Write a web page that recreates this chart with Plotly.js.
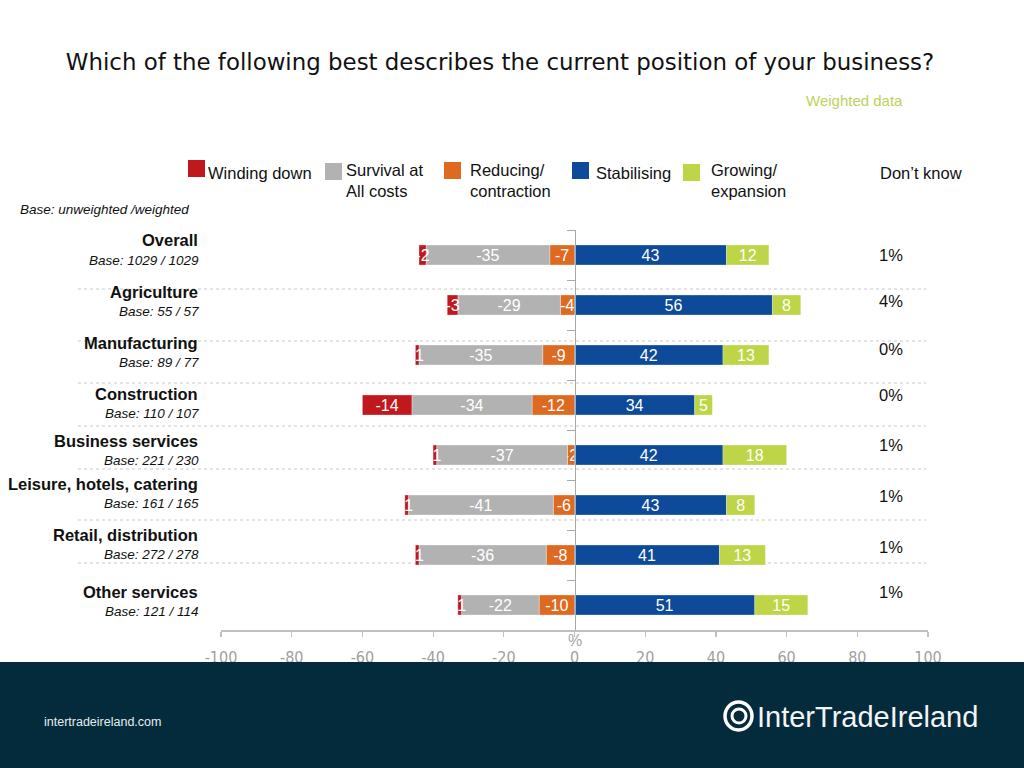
<!DOCTYPE html>
<html>
<head>
<meta charset="utf-8">
<script src="https://cdn.plot.ly/plotly-3.0.1.min.js"></script>
<style>
  html, body { margin: 0; padding: 0; background: #ffffff; }
  #chart { width: 1024px; height: 768px; }
</style>
</head>
<body>
<div id="chart"></div>
<script>
// ---------------- DATA ----------------
const categories = ["Overall", "Agriculture", "Manufacturing", "Construction",
  "Business services", "Leisure, hotels, catering", "Retail, distribution", "Other services"];
const bases = ["Base: 1029 / 1029", "Base: 55 / 57", "Base: 89 / 77", "Base: 110 / 107",
  "Base: 221 / 230", "Base: 161 / 165", "Base: 272 / 278", "Base: 121 / 114"];
const windingDown = [2, 3, 1, 14, 1, 1, 1, 1];
const survival    = [35, 29, 35, 34, 37, 41, 36, 22];
const reducing    = [7, 4, 9, 12, 2, 6, 8, 10];
const stabilising = [43, 56, 42, 34, 42, 43, 41, 51];
const growing     = [12, 8, 13, 5, 18, 8, 13, 15];
const dontKnow    = ["1%", "4%", "0%", "0%", "1%", "1%", "1%", "1%"];
const seriesNames = ["Winding down", "Survival at<br>All costs", "Reducing/<br>contraction",
  "Stabilising", "Growing/<br>expansion"];
const xTicks = [-100, -80, -60, -40, -20, 0, 20, 40, 60, 80, 100];

// ---------------- STYLE ----------------
const colors = {
  winding: "#c1181d", survival: "#b2b2b2", reducing: "#de6a21",
  stabilising: "#0d4a9a", growing: "#bdd546"
};
const FONT = "Liberation Sans, Arial, Helvetica, sans-serif";
const L = 221, R = 928, T = 230, B = 630;     // plot area in pixels
const xp = px => (px - L) / (R - L);
const yp = py => (B - py) / (B - T);

const negLabel = v => (v === 1 ? "\u00a01" : "-" + v);
const posLabel = v => String(v);

function barTrace(vals, sign, color, labelFn, name) {
  return {
    type: "bar", orientation: "h", name: name,
    y: categories, x: vals.map(v => sign * v),
    text: vals.map(labelFn), textposition: "inside", insidetextanchor: "middle",
    textangle: 0, constraintext: "none", cliponaxis: false,
    textfont: { family: FONT, size: 16, color: "#ffffff" },
    marker: { color: color, line: { color: "rgba(255,255,255,0.6)", width: 0.5 } },
    hoverinfo: "x+y", showlegend: false
  };
}

const traces = [
  barTrace(reducing, -1, colors.reducing, negLabel, "Reducing/contraction"),
  barTrace(survival, -1, colors.survival, negLabel, "Survival at All costs"),
  barTrace(windingDown, -1, colors.winding, negLabel, "Winding down"),
  barTrace(stabilising, 1, colors.stabilising, posLabel, "Stabilising"),
  barTrace(growing, 1, colors.growing, posLabel, "Growing/expansion")
];

// ---------------- ANNOTATIONS / SHAPES ----------------
const annotations = [];
const shapes = [];

// category labels on left
const nameShift = [15, 13, 12, 11, 14, 21, 20, 13];
const baseShift = [-5, -6, -7, -8, -5, 2, 1, -6];
categories.forEach((c, i) => {
  annotations.push({
    xref: "paper", yref: "y", x: xp(200), y: c, xanchor: "right", yanchor: "middle",
    yshift: nameShift[i], text: "<b>" + c + "</b>", showarrow: false,
    font: { family: FONT, size: 16.5, color: "#111111" }
  });
  annotations.push({
    xref: "paper", yref: "y", x: xp(201), y: c, xanchor: "right", yanchor: "middle",
    yshift: baseShift[i], text: "<i>" + bases[i] + "</i>", showarrow: false,
    font: { family: FONT, size: 13.5, color: "#111111" }
  });
});

// don't know values
const dkShift = [0, 4, 6, 10, 10, 9, 8, 13];
categories.forEach((c, i) => {
  annotations.push({
    xref: "paper", yref: "y", x: xp(891), y: c, xanchor: "center", yanchor: "middle",
    yshift: dkShift[i], text: dontKnow[i], showarrow: false,
    font: { family: FONT, size: 16.5, color: "#111111" }
  });
});

// dotted separators
[289, 341, 383, 426, 469, 520, 563].forEach(py => {
  shapes.push({
    type: "line", xref: "paper", yref: "paper", x0: xp(78), x1: xp(926), y0: yp(py), y1: yp(py),
    line: { color: "#c8c8c8", width: 1, dash: "dot" }, layer: "below"
  });
});

// legend
const legendColors = [colors.winding, colors.survival, colors.reducing, colors.stabilising, colors.growing];
const legSquares = [[188, 160], [325, 163], [444, 162], [572, 162], [683, 164]];
const legText = [[206, 173], [344, 180], [468, 180], [594, 173], [709, 180]];
legendColors.forEach((col, i) => {
  const [sx, sy] = legSquares[i];
  shapes.push({
    type: "rect", xref: "paper", yref: "paper", x0: xp(sx), x1: xp(sx + 17), y0: yp(sy), y1: yp(sy + 17),
    fillcolor: col, line: { width: 0 }
  });
  annotations.push({
    xref: "paper", yref: "paper", x: xp(legText[i][0]), y: yp(legText[i][1]),
    xanchor: "left", yanchor: "middle", align: "left", text: seriesNames[i], showarrow: false,
    font: { family: FONT, size: 16.5, color: "#111111" }
  });
});
annotations.push({
  xref: "paper", yref: "paper", x: xp(878), y: yp(173), xanchor: "left", yanchor: "middle",
  text: "Don’t know", showarrow: false, font: { family: FONT, size: 16.5, color: "#111111" }
});

// misc texts
annotations.push({
  xref: "paper", yref: "paper", x: xp(18), y: yp(210), xanchor: "left", yanchor: "middle",
  text: "<i>Base: unweighted /weighted</i>", showarrow: false,
  font: { family: FONT, size: 13.5, color: "#111111" }
});
annotations.push({
  xref: "paper", yref: "paper", x: xp(905), y: yp(100), xanchor: "right", yanchor: "middle",
  text: "Weighted data", showarrow: false, font: { family: FONT, size: 15, color: "#bcd35a" }
});
annotations.push({
  xref: "x", yref: "paper", x: 0, y: yp(640), xanchor: "center", yanchor: "middle",
  text: "%", showarrow: false, font: { family: FONT, size: 16, color: "#a6a6a6" }
});

// footer band
shapes.push({
  type: "rect", xref: "paper", yref: "paper", x0: xp(0), x1: xp(1024), y0: yp(662), y1: yp(770),
  fillcolor: "#032b3b", line: { width: 0 }, layer: "above"
});
// logo icon
shapes.push({
  type: "circle", xref: "paper", yref: "paper", x0: xp(725), x1: xp(752), y0: yp(702), y1: yp(730),
  line: { color: "#ffffff", width: 3.5 }, fillcolor: "rgba(0,0,0,0)", layer: "above"
});
shapes.push({
  type: "circle", xref: "paper", yref: "paper", x0: xp(732), x1: xp(746), y0: yp(709), y1: yp(723),
  line: { color: "#ffffff", width: 3 }, fillcolor: "rgba(0,0,0,0)", layer: "above"
});
annotations.push({
  xref: "paper", yref: "paper", x: xp(755), y: yp(717), xanchor: "left", yanchor: "middle",
  text: "InterTradeIreland", showarrow: false, font: { family: FONT, size: 29, color: "#f2f4f5" }
});
annotations.push({
  xref: "paper", yref: "paper", x: xp(42), y: yp(722), xanchor: "left", yanchor: "middle",
  text: "intertradeireland.com", showarrow: false, font: { family: FONT, size: 12.5, color: "#e8ecee" }
});

// ---------------- LAYOUT ----------------
const layout = {
  width: 1024, height: 768,
  margin: { l: L, r: 1024 - R, t: T, b: 768 - B, pad: 0 },
  paper_bgcolor: "#ffffff", plot_bgcolor: "rgba(0,0,0,0)",
  barmode: "relative", bargap: 0.6,
  showlegend: false,
  title: {
    text: "Which of the following best describes the current position of your business?",
    xref: "container", yref: "container", x: 500 / 1024, y: 1 - 62 / 768,
    xanchor: "center", yanchor: "middle",
    font: { family: "DejaVu Sans, Verdana, sans-serif", size: 22.9, color: "#111111" }
  },
  xaxis: {
    range: [-100, 100], tickvals: xTicks, ticktext: xTicks.map(String),
    showgrid: false, zeroline: false, showline: true, linecolor: "#c0c0c0", linewidth: 1.5,
    ticks: "outside", ticklen: 5, tickcolor: "#c0c0c0", tickwidth: 1.2,
    ticklabelstandoff: 7,
    tickfont: { family: "Liberation Sans Narrow, DejaVu Sans Condensed, sans-serif", size: 16, color: "#a0a0a0" },
    fixedrange: true
  },
  yaxis: {
    type: "category", autorange: "reversed", anchor: "free", position: 0.5,
    showgrid: false, zeroline: false, showline: true, linecolor: "#a8a8a8", linewidth: 1,
    ticks: "outside", tickson: "boundaries", ticklen: 8, tickcolor: "#a8a8a8",
    showticklabels: false, fixedrange: true
  },
  annotations: annotations,
  shapes: shapes
};

Plotly.newPlot("chart", traces, layout, { staticPlot: true, displayModeBar: false });
</script>
</body>
</html>
